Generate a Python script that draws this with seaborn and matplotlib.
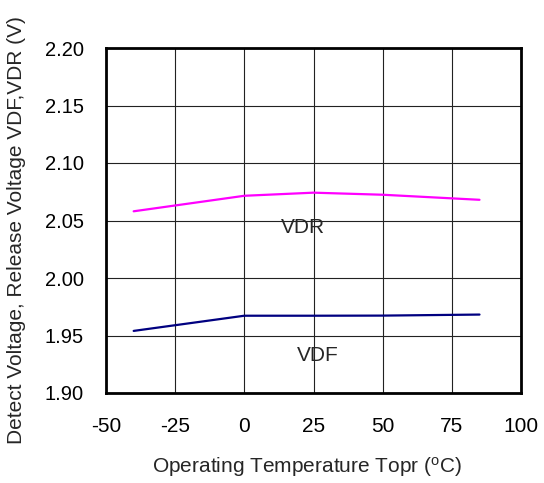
import pandas as pd
import seaborn as sns
import matplotlib.pyplot as plt

# --- data ---
temp_vdr = [-40, 0, 25, 50, 85]
vdr = [2.058, 2.0715, 2.0742, 2.0724, 2.068]
temp_vdf = [-40, 0, 25, 50, 85]
vdf = [1.954, 1.9672, 1.9672, 1.9673, 1.9682]

x_ticks = [-50, -25, 0, 25, 50, 75, 100]
y_ticks = [1.90, 1.95, 2.00, 2.05, 2.10, 2.15, 2.20]

df = pd.concat([
    pd.DataFrame({"temp": temp_vdr, "volt": vdr, "series": "VDR"}),
    pd.DataFrame({"temp": temp_vdf, "volt": vdf, "series": "VDF"}),
])

sns.set_style("white")
plt.rcParams["font.family"] = ["Liberation Sans", "DejaVu Sans"]

fig = plt.figure(figsize=(5.44, 4.83), dpi=100)
ax = fig.add_axes([106 / 544, 1 - 393 / 483, (521 - 106) / 544, (393 - 48) / 483])

sns.lineplot(
    data=df, x="temp", y="volt", hue="series",
    palette={"VDR": "#FF00FF", "VDF": "#000080"},
    linewidth=1.6, legend=False, ax=ax,
)

ax.set_xlim(-50, 100)
ax.set_ylim(1.90, 2.20)
ax.set_xticks(x_ticks)
ax.set_yticks(y_ticks)
ax.set_xticklabels([str(t) for t in x_ticks])
ax.set_yticklabels([f"{t:.2f}" for t in y_ticks])
ax.grid(True, color="#222222", linewidth=0.8)
ax.tick_params(direction="in", length=4, colors="black")
ax.tick_params(axis="x", labelsize=15, pad=17)
ax.tick_params(axis="y", labelsize=14.5, pad=16)
for s in ax.spines.values():
    s.set_color("black")
    s.set_linewidth(2)

ax.text(21.2, 2.0435, "VDR", fontsize=15, ha="center", va="center")
ax.text(26.6, 1.933, "VDF", fontsize=15, ha="center", va="center")

ax.set_xlabel("Operating Temperature Topr ($\\mathregular{^{o}}$C)", fontsize=15)
ax.set_ylabel("Detect Voltage, Release Voltage VDF,VDR (V)", fontsize=15)
ax.xaxis.set_label_coords(0.484, -0.18)
ax.yaxis.set_label_coords(-0.193, 0.472)

fig.savefig("out.png", dpi=100)
